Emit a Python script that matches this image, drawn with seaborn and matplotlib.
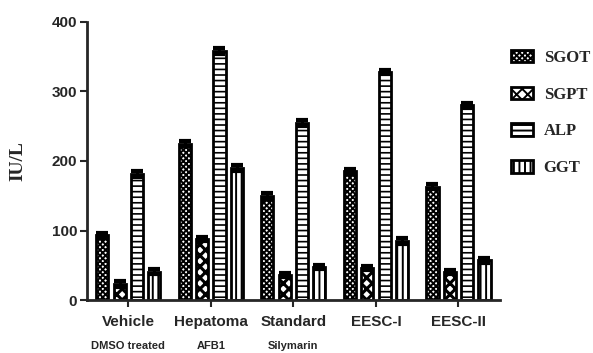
import matplotlib
matplotlib.use("Agg")
import matplotlib.pyplot as plt
import matplotlib.patches as mpatches
import numpy as np
import pandas as pd
import seaborn as sns

groups = ["Vehicle", "Hepatoma", "Standard", "EESC-I", "EESC-II"]
subtitles = ["DMSO treated", "AFB1", "Silymarin", "", ""]
enzymes = ["SGOT", "SGPT", "ALP", "GGT"]
sgot = [93, 225, 150, 185, 163]
sgpt = [23, 88, 36, 46, 40]
alp = [181, 358, 255, 328, 280]
ggt = [41, 190, 48, 85, 57]
err_sgot = [4, 4, 4, 4, 4]
err_sgpt = [4, 3, 3, 3, 3]
err_alp = [4, 4, 4, 3, 4]
err_ggt = [3, 4, 3, 4, 4]
yticks = [0, 100, 200, 300, 400]

values = {"SGOT": sgot, "SGPT": sgpt, "ALP": alp, "GGT": ggt}
errors = {"SGOT": err_sgot, "SGPT": err_sgpt, "ALP": err_alp, "GGT": err_ggt}
rows = []
for e in enzymes:
    for g, v, er in zip(groups, values[e], errors[e]):
        rows.append({"group": g, "enzyme": e, "value": v, "err": er})
df = pd.DataFrame(rows)

sns.set_style("ticks")
plt.rcParams["hatch.linewidth"] = 1.4

fig = plt.figure(figsize=(5.93, 3.53), dpi=100)
ax = fig.add_axes([0.1467, 0.150, 0.696, 0.788])

sns.barplot(data=df, x="group", y="value", hue="enzyme", order=groups,
            hue_order=enzymes, ax=ax, color="white", edgecolor="black",
            linewidth=2, width=0.84, gap=0.3, errorbar=None, legend=False)

hatches = {"SGOT": "xxxxxx", "SGPT": "xxx", "ALP": "---", "GGT": "|||"}
hatch_lw = {"SGOT": 1.4, "SGPT": 2.2, "ALP": 1.2, "GGT": 1.4}
for cont, e in zip(ax.containers, enzymes):
    xs, hs = [], []
    for bar in cont:
        bar.set_hatch(hatches[e])
        if hasattr(bar, "set_hatch_linewidth"):
            bar.set_hatch_linewidth(hatch_lw[e])
        bar.set_facecolor("white")
        bar.set_edgecolor("black")
        xs.append(bar.get_x() + bar.get_width() / 2)
        hs.append(bar.get_height())
    ax.errorbar(xs, hs, yerr=errors[e], fmt="none", ecolor="black",
                elinewidth=2, capsize=4.0, capthick=3, zorder=5)

ax.set_ylim(0, 400)
ax.set_xlim(-0.5, 4.5)
ax.set_yticks(yticks)
ax.set_yticklabels([str(t) for t in yticks], fontfamily="Liberation Sans",
                   fontweight="bold", fontsize=11)
ax.set_xticks(range(len(groups)))
ax.set_xticklabels(groups, fontfamily="Liberation Sans", fontweight="bold",
                   fontsize=11)
ax.tick_params(axis="both", width=1.5, length=5, direction="out", pad=2)
ax.tick_params(axis="x", pad=6)
for s in ["left", "bottom"]:
    ax.spines[s].set_linewidth(2)
sns.despine(ax=ax)
ax.set_xlabel("")
ax.set_ylabel("IU/L", fontfamily="Liberation Serif", fontweight="bold",
              fontsize=14, labelpad=18)

for i, sub in enumerate(subtitles):
    if sub:
        ax.text(i, -0.165, sub, transform=ax.get_xaxis_transform(),
                ha="center", va="center", fontfamily="Liberation Sans",
                fontweight="bold", fontsize=8)

handles = [mpatches.Patch(facecolor="white", edgecolor="black", linewidth=2,
                          hatch=hatches[e], label=e) for e in enzymes]
leg = fig.legend(handles=handles, loc="upper left", bbox_to_anchor=(0.850, 0.878),
                 frameon=False, prop={"family": "Liberation Serif", "weight": "bold",
                                      "size": 12},
                 handlelength=1.33, handleheight=0.75, labelspacing=1.25,
                 handletextpad=0.65, borderaxespad=0)

fig.savefig("out.png", dpi=100)
